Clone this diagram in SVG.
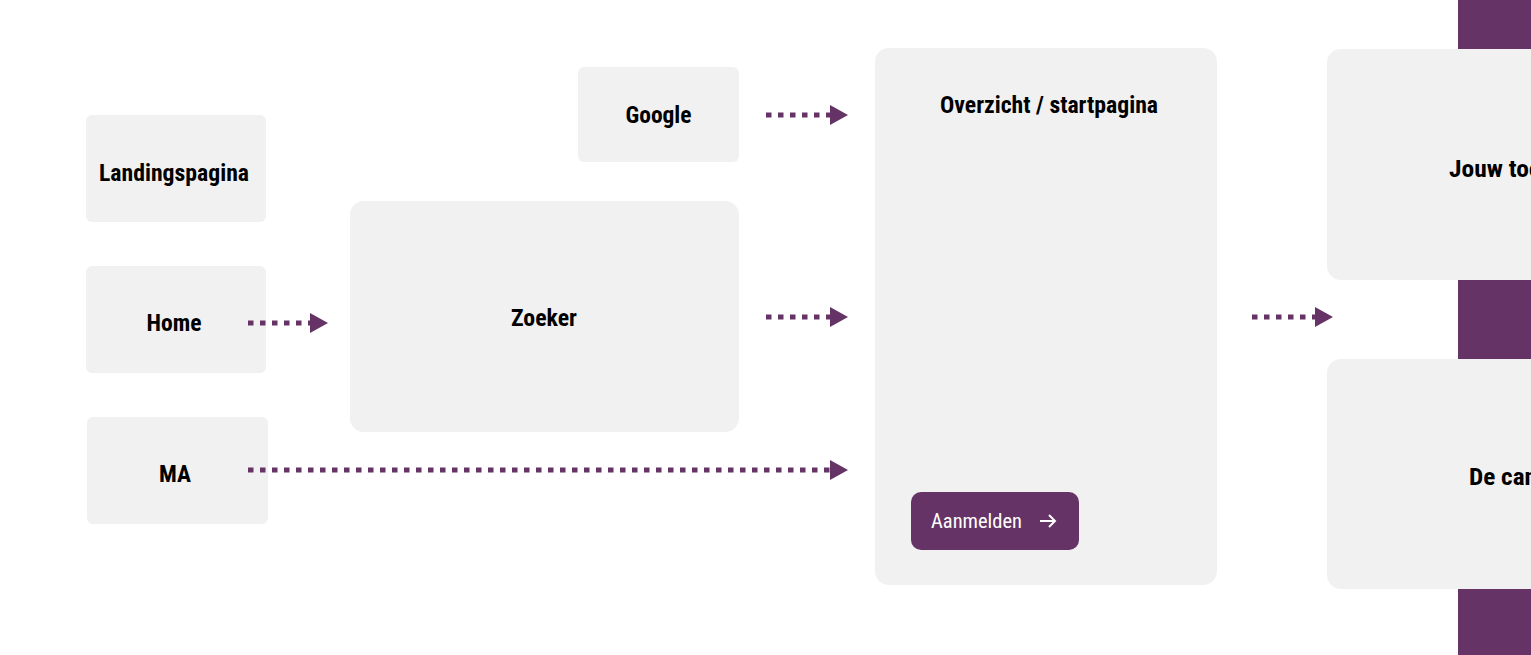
<svg xmlns="http://www.w3.org/2000/svg" width="1531" height="655" viewBox="0 0 1531 655">
<style>
.box{fill:#f1f1f1}
.lbl{font-family:"Roboto Condensed",Roboto,"Liberation Sans",sans-serif;font-weight:700;font-size:24px;fill:#000;font-stretch:condensed}
.btn{font-family:"Roboto Condensed",Roboto,"Liberation Sans",sans-serif;font-weight:400;font-size:20px;fill:#fff;font-stretch:condensed}
.conn{stroke:#663366;stroke-width:5;stroke-dasharray:5.5 6.5;fill:none}
</style>
<defs>
<marker id="ah" markerUnits="userSpaceOnUse" markerWidth="20" markerHeight="22" refX="0" refY="10" orient="auto">
<polygon points="0,0 18,10 0,20" fill="#663366"/>
</marker>
</defs>
<path d="M1458 0 H1531 V670 H1472 Q1458 670 1458 656 Z" fill="#663366"/>
<g id="landingspagina"><rect class="box" x="86" y="115" width="180" height="107" rx="6"/><text class="lbl" x="174" y="181" text-anchor="middle" textLength="150" lengthAdjust="spacingAndGlyphs">Landingspagina</text></g>
<g id="home"><rect class="box" x="86" y="266" width="180" height="107" rx="6"/><text class="lbl" x="174" y="331" text-anchor="middle" textLength="55" lengthAdjust="spacingAndGlyphs">Home</text></g>
<g id="ma"><rect class="box" x="87" y="417" width="181" height="107" rx="6"/><text class="lbl" x="175" y="482" text-anchor="middle" textLength="32" lengthAdjust="spacingAndGlyphs">MA</text></g>
<g id="google"><rect class="box" x="578" y="67" width="161" height="95" rx="6"/><text class="lbl" x="658.5" y="123" text-anchor="middle" textLength="66" lengthAdjust="spacingAndGlyphs">Google</text></g>
<g id="zoeker"><rect class="box" x="350" y="201" width="389" height="231" rx="14"/><text class="lbl" x="544" y="326" text-anchor="middle" textLength="66" lengthAdjust="spacingAndGlyphs">Zoeker</text></g>
<g id="overzicht"><rect class="box" x="875" y="48" width="342" height="537" rx="14"/><text class="lbl" x="1049" y="113" text-anchor="middle" textLength="218" lengthAdjust="spacingAndGlyphs">Overzicht / startpagina</text>
<g id="aanmelden"><rect x="911" y="492" width="168" height="58" rx="10" fill="#663366"/><text class="btn" x="931" y="528" textLength="91" lengthAdjust="spacingAndGlyphs">Aanmelden</text><path d="M1040 521 H1055 M1049 515 L1055 521 L1049 527" stroke="#fff" stroke-width="2" fill="none"/></g></g>
<g id="jouw"><rect class="box" x="1327" y="49" width="230" height="231" rx="14"/><text class="lbl" x="1449" y="177" textLength="92" lengthAdjust="spacingAndGlyphs">Jouw toe</text></g>
<g id="decan"><rect class="box" x="1327" y="359" width="230" height="230" rx="14"/><text class="lbl" x="1469" y="485" textLength="68" lengthAdjust="spacingAndGlyphs">De can</text></g>
<g id="connectors">
<path class="conn" d="M766 115 H830" marker-end="url(#ah)"/>
<path class="conn" d="M248 323 H310" marker-end="url(#ah)"/>
<path class="conn" d="M766 317 H830" marker-end="url(#ah)"/>
<path class="conn" d="M248 470 H830" marker-end="url(#ah)"/>
<path class="conn" d="M1252 317 H1315" marker-end="url(#ah)"/>
</g>
</svg>
